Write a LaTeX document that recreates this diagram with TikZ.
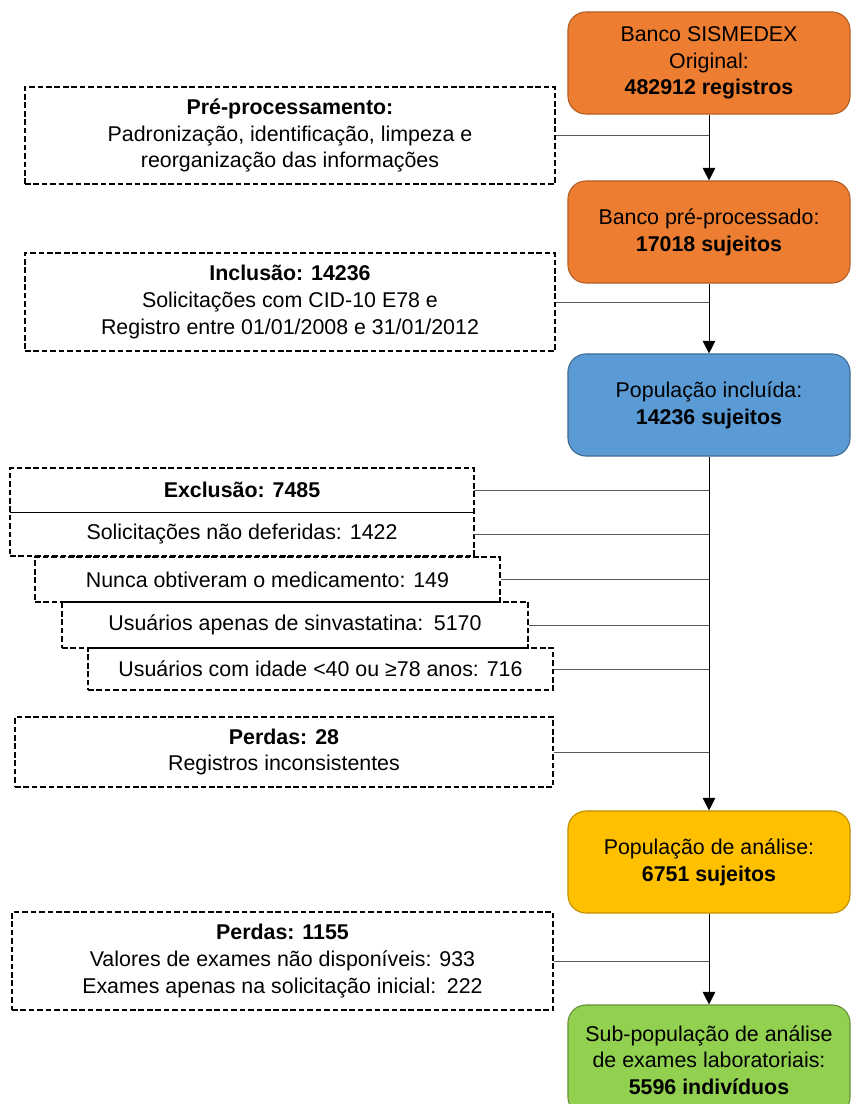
\documentclass[tikz,border=0pt]{standalone}
\usepackage{fontspec}
\setmainfont{Liberation Sans}
\usetikzlibrary{arrows.meta}
\definecolor{bancoorange}{HTML}{ED7D31}
\definecolor{incblue}{HTML}{5B9BD5}
\definecolor{analyellow}{HTML}{FFC000}
\definecolor{subgreen}{HTML}{92D050}
\newcommand{\fluxfont}{\fontsize{15.2}{19}\selectfont}

\begin{document}
\begin{tikzpicture}[x=0.025cm,y=-0.025cm,
      mainbox/.style={rectangle,rounded corners=0.45cm,draw,line width=0.8pt,
                      minimum width=7.05cm,minimum height=2.55cm,align=center,
                      font=\fluxfont},
      dashbox/.style={rectangle,draw,line width=1pt,dash pattern=on 4pt off 2pt,
                      align=center,font=\fluxfont,inner sep=0pt},
      plainbox/.style={rectangle,align=center,font=\fluxfont,inner sep=0pt},
      spine/.style={draw,line width=0.7pt,-{Triangle[length=9pt,width=9pt]}},
      side/.style={draw,black!65,line width=0.7pt}]
    \useasboundingbox (0,0) rectangle (851,1104);
    \clip (0,0) rectangle (851,1104);

    % main column
    \node[mainbox,fill=bancoorange,draw=bancoorange!75!black] (banco) at(709,63)
      {Banco SISMEDEX\\Original:\\\textbf{482912 registros}};
    \node[mainbox,fill=bancoorange,draw=bancoorange!75!black] (prep) at(709,232)
      {Banco pré-processado:\\\textbf{17018 sujeitos}};
    \node[mainbox,fill=incblue,draw=incblue!70!black] (incl) at(709,405)
      {População incluída:\\\textbf{14236 sujeitos}};
    \node[mainbox,fill=analyellow,draw=analyellow!75!black] (anal) at(709,862)
      {População de análise:\\\textbf{6751 sujeitos}};
    \node[mainbox,fill=subgreen,draw=subgreen!70!black,minimum height=2.75cm] (sub) at(709,1060)
      {Sub-população de análise\\de exames laboratoriais:\\\textbf{5596 indivíduos}};

    % side boxes
    \node[dashbox,minimum width=13.25cm,minimum height=2.425cm] (pre) at(290,135.5)
      {\textbf{Pré-processamento:}\\Padronização, identificação, limpeza e\\reorganização das informações};
    \node[dashbox,minimum width=13.25cm,minimum height=2.45cm] (inc) at(290,302)
      {\textbf{Inclusão: 14236}\\Solicitações com CID-10 E78 e\\Registro entre 01/01/2008 e 31/01/2012};
    \node[dashbox,minimum width=11.6cm,minimum height=2.2cm] (exclgrp) at(242,512) {};
    \node[plainbox,minimum width=11.6cm,minimum height=1.1cm] (excl) at(242,490)
      {\textbf{Exclusão: 7485}};
    \node[plainbox,minimum width=11.6cm,minimum height=1.1cm] (naodef) at(242,534)
      {Solicitações não deferidas: 1422};
    \draw[line width=1pt] (excl.south west) -- (excl.south east);
    \node[dashbox,minimum width=11.625cm,minimum height=1.125cm] (nunca) at(267.5,579.5)
      {Nunca obtiveram o medicamento: 149};
    \node[dashbox,minimum width=11.65cm,minimum height=1.15cm] (sinva) at(295,625)
      {Usuários apenas de sinvastatina:\enspace 5170};
    \node[dashbox,minimum width=11.625cm,minimum height=1.05cm] (idade) at(320.5,669)
      {Usuários com idade <40 ou ≥78 anos: 716};
    \node[dashbox,minimum width=13.45cm,minimum height=1.75cm] (perd) at(284,752)
      {\textbf{Perdas: 28}\\Registros inconsistentes};
    \node[dashbox,minimum width=13.525cm,minimum height=2.45cm] (perdlab) at(282.5,961)
      {\textbf{Perdas: 1155}\\Valores de exames não disponíveis: 933\\Exames apenas na solicitação inicial:\enspace 222};

    % connectors
    \draw[spine] (banco) -- (prep);
    \draw[spine] (prep) -- (incl);
    \draw[spine] (incl) -- (anal);
    \draw[spine] (anal) -- (sub);
    \foreach \s in {pre,inc,excl,naodef,nunca,sinva,idade,perd,perdlab}
      \draw[side] (\s.east) -- (\s.east -| banco.south);
  \end{tikzpicture}
\end{document}
